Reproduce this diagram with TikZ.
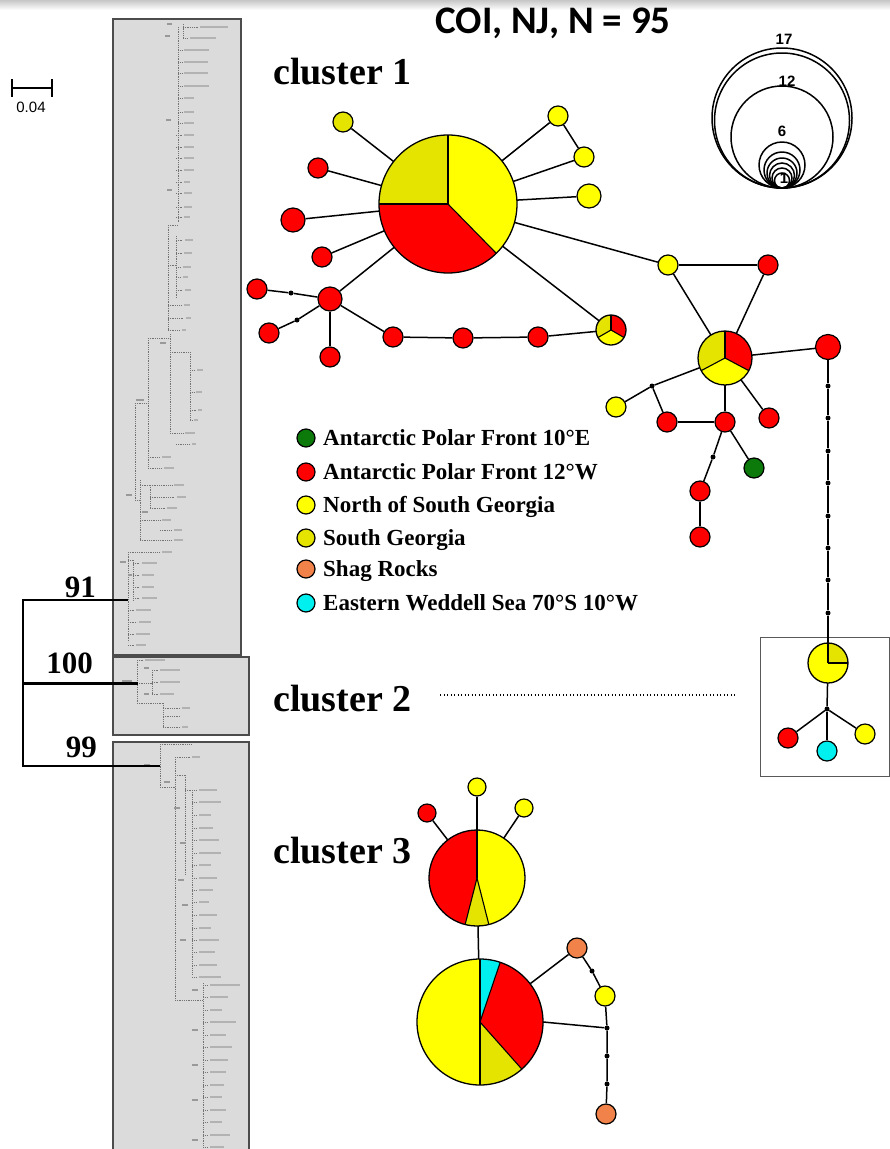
\documentclass[tikz,border=0pt]{standalone}
\usepackage{fontspec}
\setmainfont{Liberation Serif}
\newfontfamily\titlefont{Carlito}
\newfontfamily\lsans{Liberation Sans}

% population colours
\definecolor{apfE}{HTML}{0B7A0B}  % Antarctic Polar Front 10E
\definecolor{apfW}{HTML}{FF0000}  % Antarctic Polar Front 12W
\definecolor{nsg}{HTML}{FFFF00}   % North of South Georgia
\definecolor{sg}{HTML}{E4E400}    % South Georgia
\definecolor{shag}{HTML}{F0824A}  % Shag Rocks
\definecolor{ews}{HTML}{00F0F0}   % Eastern Weddell Sea

\tikzset{
  hap/.style={circle, draw=black, line width=1.2pt, inner sep=0pt, minimum size=20pt},
  mv/.style={circle, fill=black, inner sep=0pt, minimum size=5pt},
  edge/.style={line width=1.5pt, draw=black},
  tb/.style={line width=0.7pt, draw=black!55, dash pattern=on 0.9pt off 0.9pt},
  tl/.style={line width=2.6pt, draw=black!30},
  tn/.style={line width=1.8pt, draw=black!40},
  panel/.style={draw=black!70, line width=1.2pt, fill=black!14},
  clus/.style={font=\bfseries\fontsize{38}{41}\selectfont, anchor=base west, inner sep=0pt},
  boot/.style={font=\bfseries\fontsize{31}{34}\selectfont, anchor=base east, inner sep=0pt},
  legtext/.style={font=\bfseries\fontsize{23}{25}\selectfont, anchor=base west, inner sep=0pt},
  sizelbl/.style={font=\lsans\bfseries\fontsize{15}{16}\selectfont, inner sep=0pt},
}

% pie-chart haplotype: name, position, radius (pt), sectors start/end/colour
\newcommand{\pienode}[4]{%
  \node[circle, inner sep=0pt, minimum size={2*#3pt}] (#1) at (#2) {};
  \foreach \a/\b/\c in {#4} {
    \fill[\c] (#1.center) -- ++(\a:#3pt) arc[start angle=\a, end angle=\b, radius=#3pt] -- cycle;
  }
  \foreach \a/\b/\c in {#4} {
    \draw[line width=1.1pt] (#1.center) -- ++(\a:#3pt);
  }
  \draw[line width=1.3pt] (#1.center) circle[radius=#3pt];
}
% tree leaf: y, x start, x end, label length
\newcommand{\tleaf}[4]{%
  \draw[tb] (#2,#1) -- (#3,#1);
  \draw[tl] ({#3+2},#1) -- ({#3+2+#4},#1);
}
% tree vertical: x, y start, y end
\newcommand{\tvert}[3]{\draw[tb] (#1,#2) -- (#1,#3);}

\begin{document}
\begin{tikzpicture}[x=1pt,y=-1pt]
\useasboundingbox (0,0) rectangle (890,1149);
\fill[white] (0,0) rectangle (890,1149);
\shade[top color=black!22, bottom color=white] (0,0) rectangle (890,10);

% ---------- title ----------
\node[font=\titlefont\bfseries\fontsize{39}{42}\selectfont, anchor=base, inner sep=0pt] (title) at (553,33) {COI, NJ, N = 95};

% ---------- scale bar ----------
\coordinate (sb1) at (12,88);
\coordinate (sb2) at (52,88);
\draw[line width=1.3pt] (sb1) -- (sb2);
\draw[line width=1.3pt] (12,79) -- (12,97);
\draw[line width=1.3pt] (52,79) -- (52,97);
\node[font=\lsans\fontsize{15}{16}\selectfont, anchor=base, inner sep=0pt] (sbl) at (31,112) {0.04};

% ---------- tree panels ----------
\draw[panel] (113,19) rectangle (241,655);
\draw[panel] (113,657) rectangle (249,735);
\draw[panel] (113,742) rectangle (249,1155);

% panel 1
\tvert{178}{27}{222}
\tvert{183}{24}{40}
\foreach \y/\a/\b/\l in {27/183/198/28, 38/183/188/26, 50/178/182/25, 62/178/182/24, 73/178/182/24, 86/178/182/25,
  98/178/182/10, 112/178/182/10, 123/178/182/10, 135/176/182/10, 147/176/182/10, 158/176/182/10,
  170/176/182/10, 182/176/182/6, 193/176/182/8, 207/176/182/8, 217/176/182/6}
  {\tleaf{\y}{\a}{\b}{\l}}
\foreach \x/\y in {172/24, 170/36, 171/120, 172/190}
  {\draw[tn] ({\x-5},\y) -- (\x,\y);}
\tvert{168}{225}{330}
\tvert{176}{236}{298}
\draw[tb] (168,225) -- (178,225);
\draw[tb] (168,265) -- (176,265);
\foreach \y/\a/\b/\l in {240/176/183/8, 253/176/182/8, 267/176/181/8, 277/176/181/5, 290/176/183/6,
  305/168/182/6, 318/168/184/5, 330/168/180/4}
  {\tleaf{\y}{\a}{\b}{\l}}
\tvert{148}{338}{468}
\tvert{170}{334}{433}
\tvert{190}{352}{420}
\draw[tb] (148,338) -- (170,338);
\draw[tb] (170,352) -- (190,352);
\foreach \y/\a/\b/\l in {370/190/195/6, 392/190/194/6, 410/190/196/4, 420/190/192/4, 433/170/183/10,
  444/176/190/4, 457/148/160/9, 468/148/162/10}
  {\tleaf{\y}{\a}{\b}{\l}}
\draw[tn] (136,400) -- (144,400);
\draw[tn] (160,343) -- (166,343);
\tvert{135}{403}{500}
\draw[tb] (135,403) -- (148,403);
\tvert{140}{480}{540}
\tvert{150}{485}{508}
\draw[tb] (135,500) -- (140,500);
\draw[tb] (140,485) -- (150,485);
\foreach \y/\a/\b/\l in {485/150/172/10, 497/150/175/9, 508/150/165/10, 520/140/160/9, 530/160/172/8, 540/140/172/9}
  {\tleaf{\y}{\a}{\b}{\l}}
\draw[tn] (126,495) -- (132,495);
\draw[tn] (142,512) -- (148,512);
\tvert{128}{552}{642}
\tvert{133}{560}{600}
\draw[tb] (128,560) -- (133,560);
\foreach \y/\a/\b/\l in {552/128/160/10, 563/133/140/15, 575/133/140/12, 587/133/140/12, 598/133/140/15,
  610/128/134/15, 622/128/137/12, 634/128/134/14, 645/128/134/10}
  {\tleaf{\y}{\a}{\b}{\l}}
\draw[tn] (120,562) -- (126,562);
\draw[tn] (128,575) -- (132,575);

% panel 2
\tvert{137}{660}{703}
\tleaf{660}{137}{143}{20}
\tvert{152}{670}{694}
\draw[tb] (137,683) -- (152,683);
\foreach \y/\l in {670/20, 682/20, 694/14}
  {\tleaf{\y}{152}{158}{\l}}
\tvert{163}{703}{727}
\draw[tb] (137,703) -- (163,703);
\foreach \y/\l in {708/8, 716/0, 727/6}
  {\tleaf{\y}{163}{180}{\l}}
\draw[tn] (122,681) -- (132,681);
\draw[tn] (144,668) -- (149,668);
\draw[tn] (144,694) -- (149,694);

% panel 3
\tleaf{744}{160}{192}{0}
\tvert{160}{744}{787}
\draw[tb] (160,787) -- (175,787);
\tvert{175}{757}{1000}
\tleaf{757}{175}{190}{8}
\tvert{185}{775}{875}
\tvert{192}{790}{975}
\draw[tb] (175,775) -- (185,775);
\draw[tb] (185,790) -- (192,790);
\foreach \y/\l in {790/18, 802/22, 815/12, 828/14, 840/20, 853/22, 865/12, 878/18, 890/14,
  902/10, 915/18, 928/12, 940/20, 952/16, 965/18, 977/22}
  {\tleaf{\y}{192}{197}{\l}}
\draw[tb] (175,1000) -- (203,1000);
\tvert{203}{983}{1149}
\foreach \y/\l in {985/30, 997/18, 1010/12, 1022/26, 1035/16, 1047/22, 1060/18, 1072/16, 1085/14,
  1097/12, 1110/16, 1122/12, 1135/20, 1147/14}
  {\tleaf{\y}{203}{208}{\l}}
\foreach \x/\y in {150/765, 170/782, 180/808, 186/843, 184/880, 188/905, 186/940, 198/990, 198/1030, 198/1065, 198/1100, 198/1140}
  {\draw[tn] ({\x-6},\y) -- (\x,\y);}

% ---------- clade bracket ----------
\coordinate (r91) at (128,600);
\coordinate (r100) at (138,683);
\coordinate (r99) at (160,766);
\coordinate (k91) at (23,600);
\coordinate (k100) at (23,683);
\coordinate (k99) at (23,766);
\draw[line width=2pt] (r91) -- (k91) -- (k99) -- (r99);
\draw[line width=3pt] (k100) -- (r100);
\node[boot] (b91) at (96,597) {91};
\node[boot] (b100) at (93,673) {100};
\node[boot] (b99) at (97,757) {99};

% ---------- cluster labels ----------
\node[clus] (cl1) at (273,84) {cluster 1};
\node[clus] (cl2) at (273,711) {cluster 2};
\node[clus] (cl3) at (273,863) {cluster 3};

% ---------- circle size key ----------
\foreach \r in {70,67.5,51,23,18,15,12.5,10,7.5}
  {\draw[line width=1.5pt] (782,{188-\r}) circle[radius=\r pt];}
\node[sizelbl] (s17) at (784,39) {17};
\node[sizelbl] (s12) at (787,81) {12};
\node[sizelbl] (s6) at (782,131) {6};
\node[sizelbl] (s1) at (784,178) {1};

% ---------- cluster 1 network ----------
\pienode{c1hub}{448,204}{69}{90/180/sg, 180/314.4/apfW, -45.6/90/nsg}
\node[hap, fill=sg] (a1) at (343,122) {};
\node[hap, fill=apfW] (a2) at (318,168) {};
\node[hap, fill=apfW, minimum size=24pt] (a3) at (293,220) {};
\node[hap, fill=apfW] (a4) at (322,257) {};
\node[hap, fill=apfW, minimum size=24pt] (a5) at (330,299) {};
\node[hap, fill=apfW] (a6) at (257,289) {};
\node[hap, fill=apfW] (a7) at (269,333) {};
\node[hap, fill=apfW] (a8) at (330,357) {};
\node[hap, fill=apfW] (a9) at (393,337) {};
\node[hap, fill=apfW] (a10) at (463,338) {};
\node[hap, fill=apfW] (a11) at (538,337) {};
\pienode{t1}{611,330}{15}{90/210/sg, 210/330/nsg, -30/90/apfW}
\node[hap, fill=nsg] (y1) at (558,116) {};
\node[hap, fill=nsg] (y2) at (584,157) {};
\node[hap, fill=nsg, minimum size=24pt] (y3) at (589,196) {};
\node[mv] (m1) at (291,293) {};
\node[mv] (m2) at (297,320) {};

\pienode{t2}{725,358}{27}{90/208/sg, 208/332/nsg, -28/90/apfW}
\node[hap, fill=nsg] (b1) at (668,265) {};
\node[hap, fill=apfW] (b2) at (768,265) {};
\node[hap, fill=apfW, minimum size=25pt] (b3) at (828,347) {};
\node[hap, fill=nsg] (b4) at (616,407) {};
\node[mv] (m3) at (652,386) {};
\node[hap, fill=apfW] (b5) at (667,422) {};
\node[hap, fill=apfW] (b6) at (725,422) {};
\node[hap, fill=apfW] (b7) at (769,418) {};
\node[mv] (m4) at (713,457) {};
\node[hap, fill=apfE] (b8) at (754,468) {};
\node[hap, fill=apfW] (b9) at (700,491) {};
\node[hap, fill=apfW] (b10) at (700,537) {};
\foreach \i/\y in {5/386, 6/418, 7/451, 8/483, 9/516, 10/548, 11/580, 12/613}
  {\node[mv] (m\i) at (828,\y) {};}

\draw[edge] (c1hub) -- (a1);
\draw[edge] (c1hub) -- (a2);
\draw[edge] (c1hub) -- (a3);
\draw[edge] (c1hub) -- (a4);
\draw[edge] (c1hub) -- (a5);
\draw[edge] (c1hub) -- (y1);
\draw[edge] (y1) -- (y2);
\draw[edge] (c1hub) -- (y2);
\draw[edge] (c1hub) -- (y3);
\draw[edge] (c1hub) -- (b1);
\draw[edge] (c1hub) -- (t1);
\draw[edge] (a5) -- (m1) -- (a6);
\draw[edge] (a5) -- (m2) -- (a7);
\draw[edge] (a5) -- (a8);
\draw[edge] (a5) -- (a9);
\draw[edge] (a9) -- (a10);
\draw[edge] (a10) -- (a11);
\draw[edge] (a11) -- (t1);

\draw[edge] (b1) -- (b2);
\draw[edge] (b1) -- (t2);
\draw[edge] (b2) -- (t2);
\draw[edge] (t2) -- (b3);
\draw[edge] (t2) -- (m3) -- (b4);
\draw[edge] (m3) -- (b5);
\draw[edge] (b5) -- (b6);
\draw[edge] (t2) -- (b6);
\draw[edge] (t2) -- (b7);
\draw[edge] (b6) -- (m4) -- (b9);
\draw[edge] (b9) -- (b10);
\draw[edge] (b6) -- (b8);

% ---------- cluster 2 ----------
\node[draw=black!65, line width=1.1pt, minimum width=129pt, minimum height=139pt, anchor=north west, inner sep=0pt] (box2) at (760,637) {};
\coordinate (dl1) at (440,695);
\coordinate (dl2) at (735,695);
\draw[line width=1.4pt, dash pattern=on 1.3pt off 2.2pt] (dl1) -- (dl2);
\pienode{p2}{828,663}{20}{0/90/sg, 90/360/nsg}
\node[mv] (m13) at (827,709) {};
\node[hap, fill=apfW] (c2r) at (788,738) {};
\node[hap, fill=ews] (c2c) at (827,751) {};
\node[hap, fill=nsg] (c2y) at (865,734) {};
\draw[edge] (b3) -- (m5) -- (m6) -- (m7) -- (m8) -- (m9) -- (m10) -- (m11) -- (m12) -- (p2);
\draw[edge] (p2) -- (m13);
\draw[edge] (m13) -- (c2r);
\draw[edge] (m13) -- (c2c);
\draw[edge] (m13) -- (c2y);

% ---------- cluster 3 ----------
\pienode{pA}{477,878}{48}{90/255.7/apfW, 255.7/284.3/sg, 284.3/450/nsg}
\pienode{pB}{480,1022}{63}{90/270/nsg, 270/311.6/sg, 311.6/431.3/apfW, 431.3/450/ews}
\node[hap, fill=nsg, minimum size=18pt] (d1) at (477,787) {};
\node[hap, fill=apfW, minimum size=18pt] (d2) at (427,813) {};
\node[hap, fill=nsg, minimum size=18pt] (d3) at (524,808) {};
\node[hap, fill=shag] (o1) at (577,948) {};
\node[mv] (m14) at (592,971) {};
\node[hap, fill=nsg] (d4) at (605,996) {};
\node[mv] (m15) at (607,1028) {};
\node[mv] (m16) at (607,1056) {};
\node[mv] (m17) at (607,1084) {};
\node[hap, fill=shag] (o2) at (606,1114) {};
\draw[edge] (d1) -- (pA);
\draw[edge] (d2) -- (pA);
\draw[edge] (d3) -- (pA);
\draw[edge] (pA) -- (pB);
\draw[edge] (pB) -- (o1);
\draw[edge] (o1) -- (m14) -- (d4);
\draw[edge] (d4) -- (m15);
\draw[edge] (pB.east) -- (m15);
\draw[edge] (m15) -- (m16) -- (m17) -- (o2);

% ---------- population key ----------
\foreach \n/\y/\c/\t in {1/438/apfE/{Antarctic Polar Front 10°E},
  2/472/apfW/{Antarctic Polar Front 12°W},
  3/505/nsg/{North of South Georgia},
  4/538/sg/{South Georgia},
  5/569/shag/{Shag Rocks},
  6/603/ews/{Eastern Weddell Sea 70°S 10°W}}
{
  \node[hap, fill=\c, minimum size=18pt] (key\n) at (306,\y) {};
  \node[legtext] (keytext\n) at (323,{\y+7.5}) {\t};
}
\end{tikzpicture}
\end{document}
